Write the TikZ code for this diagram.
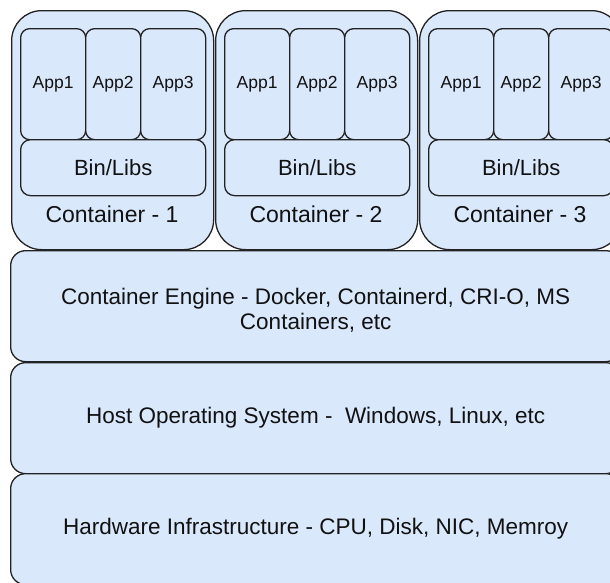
\documentclass[tikz,border=0pt]{standalone}
\usepackage{fontspec}
\setmainfont{Liberation Sans}
\definecolor{boxfill}{HTML}{DAE8FC}
\definecolor{linec}{HTML}{222222}
\definecolor{textc}{HTML}{111111}
\tikzset{
  block/.style={draw=linec, fill=boxfill, line width=1.3pt, inner sep=0pt,
    anchor=north west, align=center, text=textc},
  container/.style={block, rounded corners=30pt, minimum width=202pt, minimum height=239pt},
  appbox/.style={block, rounded corners=9pt, minimum height=111pt,
    font=\fontsize{17.5}{20}\selectfont},
  libbox/.style={block, rounded corners=10pt, minimum width=185pt, minimum height=56pt,
    font=\fontsize{22}{26}\selectfont},
  layer/.style={block, rounded corners=15pt, minimum width=610pt, minimum height=111pt,
    font=\fontsize{22.5}{25}\selectfont},
  clabel/.style={text=textc, font=\fontsize{23}{26}\selectfont, inner sep=0pt},
  ltext/.style={text=textc, align=center, inner sep=0pt, font=\fontsize{22.5}{25}\selectfont},
}
\begin{document}
\begin{tikzpicture}[x=1pt, y=-1pt]
  \useasboundingbox (0,0) rectangle (610,582);
  \clip (0,0) rectangle (610,582);

  % three containers, each with three apps over a shared Bin/Libs layer
  \foreach \i/\x in {1/11, 2/215, 3/419} {
    \node[container] (c\i) at (\x,10) {};
    \node[appbox, minimum width=65pt] (a\i1) at (\x+9,28) {App1};
    \node[appbox, minimum width=55pt] (a\i2) at (\x+74,28) {App2};
    \node[appbox, minimum width=65pt] (a\i3) at (\x+129,28) {App3};
    \node[libbox] (l\i) at (\x+9,139) {Bin/Libs};
    \node[clabel] (t\i) at (\x+101,214) {Container - \i};
  }

  % host stack underneath
  \node[layer] (engine) at (10,250) {};
  \node[ltext] (enginetext) at ([yshift=-4pt]engine.center)
    {Container Engine - Docker, Containerd, CRI-O, MS\\Containers, etc};
  \node[layer] (host) at (10,362) {Host Operating System -~ Windows, Linux, etc};
  \node[layer] (hw) at (10,473) {Hardware Infrastructure - CPU, Disk, NIC, Memroy};
\end{tikzpicture}
\end{document}
